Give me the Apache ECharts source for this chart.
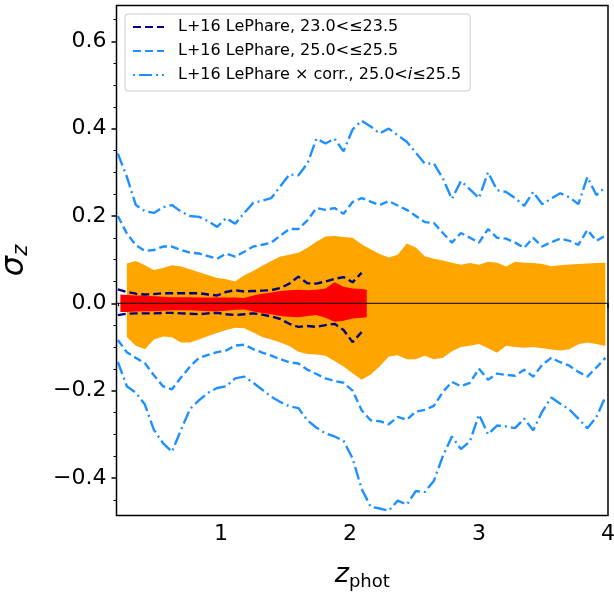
<!DOCTYPE html>
<html><head><meta charset="utf-8">
<script src="https://cdn.jsdelivr.net/npm/echarts@6/dist/echarts.min.js"></script>
<style>html,body{margin:0;padding:0;background:#fff}#c{width:614px;height:597px}</style>
</head><body><div id="c"></div>
<script>
// photometric-redshift grid (bin centres)
const zGrid = [0.20,0.27,0.34,0.41,0.48,0.55,0.62,0.69,0.76,0.83,0.90,0.97,1.04,1.11,1.18,1.25,1.32,1.39,1.46,1.53,1.60,1.67,1.74,1.81,1.88,1.95,2.02,2.09,2.16,2.23,2.30,2.37,2.44,2.51,2.58,2.65,2.72,2.79,2.86,2.93,3.00,3.07,3.14,3.21,3.28,3.35,3.42,3.49,3.56,3.63,3.70,3.77,3.84,3.91,3.98];
const zOrange = [0.27,0.34,0.41,0.48,0.55,0.62,0.69,0.76,0.83,0.90,0.97,1.04,1.11,1.18,1.25,1.32,1.39,1.46,1.53,1.60,1.67,1.74,1.81,1.88,1.95,2.02,2.09,2.16,2.23,2.30,2.37,2.44,2.51,2.58,2.65,2.72,2.79,2.86,2.93,3.00,3.07,3.14,3.21,3.28,3.35,3.42,3.49,3.56,3.63,3.70,3.77,3.84,3.91,3.98];
const zRed = [0.22,0.27,0.34,0.41,0.48,0.55,0.62,0.69,0.76,0.83,0.90,0.97,1.04,1.11,1.18,1.25,1.32,1.39,1.46,1.53,1.60,1.67,1.74,1.81,1.88,1.95,2.02,2.09,2.13];
const zNavy = [0.20,0.27,0.34,0.41,0.48,0.55,0.62,0.69,0.76,0.83,0.90,0.97,1.04,1.11,1.18,1.25,1.32,1.39,1.46,1.53,1.60,1.67,1.74,1.81,1.88,1.95,2.02,2.09];

const corrUpper = [0.343,0.290,0.225,0.211,0.207,0.220,0.225,0.210,0.200,0.198,0.188,0.175,0.195,0.182,0.207,0.230,0.235,0.241,0.268,0.295,0.293,0.320,0.377,0.366,0.377,0.348,0.398,0.418,0.405,0.389,0.400,0.385,0.370,0.345,0.320,0.320,0.286,0.239,0.280,0.261,0.241,0.300,0.259,0.255,0.241,0.223,0.255,0.227,0.240,0.252,0.243,0.227,0.289,0.248,0.266];
const corrLower = [-0.134,-0.190,-0.205,-0.232,-0.290,-0.320,-0.340,-0.290,-0.242,-0.222,-0.205,-0.194,-0.190,-0.172,-0.168,-0.182,-0.198,-0.214,-0.226,-0.236,-0.240,-0.268,-0.285,-0.298,-0.305,-0.315,-0.355,-0.425,-0.466,-0.470,-0.475,-0.452,-0.461,-0.430,-0.432,-0.407,-0.350,-0.305,-0.334,-0.316,-0.255,-0.300,-0.280,-0.282,-0.286,-0.264,-0.291,-0.248,-0.216,-0.230,-0.243,-0.264,-0.286,-0.261,-0.214];
const blueUpper = [0.200,0.160,0.133,0.120,0.122,0.130,0.130,0.122,0.116,0.114,0.108,0.102,0.114,0.107,0.118,0.130,0.134,0.139,0.155,0.170,0.170,0.190,0.218,0.214,0.218,0.205,0.232,0.241,0.233,0.225,0.234,0.224,0.214,0.200,0.186,0.184,0.161,0.139,0.161,0.150,0.139,0.170,0.150,0.148,0.139,0.127,0.150,0.130,0.140,0.148,0.143,0.134,0.168,0.143,0.155];
const blueLower = [-0.084,-0.112,-0.125,-0.137,-0.165,-0.190,-0.197,-0.170,-0.145,-0.125,-0.118,-0.112,-0.108,-0.097,-0.095,-0.105,-0.113,-0.120,-0.128,-0.135,-0.138,-0.152,-0.162,-0.172,-0.178,-0.182,-0.200,-0.245,-0.268,-0.270,-0.277,-0.260,-0.267,-0.248,-0.244,-0.235,-0.203,-0.180,-0.190,-0.182,-0.150,-0.175,-0.161,-0.164,-0.166,-0.152,-0.168,-0.141,-0.125,-0.135,-0.143,-0.157,-0.168,-0.147,-0.125];
const navyUpper = [0.032,0.026,0.022,0.020,0.021,0.023,0.023,0.023,0.023,0.023,0.020,0.018,0.026,0.030,0.027,0.028,0.029,0.030,0.035,0.045,0.061,0.046,0.045,0.050,0.056,0.060,0.048,0.070];
const navyLower = [-0.027,-0.024,-0.023,-0.023,-0.023,-0.022,-0.022,-0.023,-0.024,-0.025,-0.023,-0.022,-0.025,-0.027,-0.025,-0.023,-0.026,-0.030,-0.036,-0.047,-0.054,-0.052,-0.054,-0.050,-0.047,-0.061,-0.089,-0.066];
const orangeUpper = [0.091,0.097,0.087,0.076,0.081,0.087,0.084,0.078,0.071,0.065,0.058,0.055,0.050,0.064,0.074,0.086,0.097,0.107,0.111,0.116,0.127,0.141,0.153,0.154,0.152,0.150,0.135,0.124,0.113,0.105,0.111,0.137,0.128,0.108,0.102,0.098,0.093,0.088,0.092,0.088,0.095,0.093,0.084,0.095,0.093,0.092,0.090,0.085,0.087,0.089,0.090,0.091,0.092,0.093];
const orangeLower = [-0.077,-0.097,-0.105,-0.083,-0.076,-0.078,-0.090,-0.090,-0.083,-0.075,-0.068,-0.061,-0.056,-0.057,-0.067,-0.077,-0.083,-0.090,-0.098,-0.111,-0.116,-0.117,-0.120,-0.132,-0.145,-0.160,-0.175,-0.163,-0.145,-0.122,-0.119,-0.128,-0.128,-0.120,-0.128,-0.125,-0.110,-0.100,-0.097,-0.093,-0.103,-0.113,-0.097,-0.100,-0.102,-0.100,-0.103,-0.106,-0.108,-0.105,-0.094,-0.090,-0.093,-0.098];
const redUpper = [0.020,0.019,0.018,0.017,0.016,0.015,0.014,0.014,0.014,0.013,0.013,0.013,0.013,0.013,0.012,0.018,0.022,0.025,0.028,0.030,0.031,0.030,0.031,0.034,0.048,0.038,0.034,0.033,0.031];
const redLower = [-0.020,-0.020,-0.019,-0.018,-0.018,-0.017,-0.016,-0.016,-0.016,-0.017,-0.018,-0.018,-0.017,-0.015,-0.014,-0.019,-0.022,-0.025,-0.029,-0.031,-0.032,-0.029,-0.027,-0.033,-0.042,-0.040,-0.035,-0.033,-0.032];

const xTicks = [1,2,3,4];
const xMinorTicks = [0.2,0.3,0.4,0.5,0.6,0.7,0.8,0.9,1.1,1.2,1.3,1.4,1.5,1.6,1.7,1.8,1.9,2.1,2.2,2.3,2.4,2.5,2.6,2.7,2.8,2.9,3.1,3.2,3.3,3.4,3.5,3.6,3.7,3.8,3.9];
const yTicks = [-0.4,-0.2,0,0.2,0.4,0.6];
const yMinorTicks = [-0.45,-0.35,-0.3,-0.25,-0.15,-0.1,-0.05,0.05,0.1,0.15,0.25,0.3,0.35,0.45,0.5,0.55,0.65];
const legendLabels = ['L+16 LePhare, 23.0<≤23.5','L+16 LePhare, 25.0<≤25.5','L+16 LePhare × corr., 25.0<{it|i}≤25.5'];

const X_MIN = 0.19, X_MAX = 4.0, Y_MIN = -0.486, Y_MAX = 0.682;
const FONT = 'DejaVu Sans';

function pairs(xs, ys){ return ys.map((y,i)=>[xs[i], y]); }
function band(xs, lo, hi, color){
  return {
    type:'custom', silent:true, z:1, data:[[xs[0], lo[0]]],
    renderItem(params, api){
      const pts = [];
      for (let i=0;i<xs.length;i++) pts.push(api.coord([xs[i], hi[i]]));
      for (let i=xs.length-1;i>=0;i--) pts.push(api.coord([xs[i], lo[i]]));
      return {type:'polygon', shape:{points:pts}, style:{fill:color}};
    }
  };
}
function line(name, xs, ys, color, type){
  return {type:'line', name, data:pairs(xs, ys), symbol:'none', showSymbol:false, silent:true, z:3,
    lineStyle:{color, width:2.4, type}, itemStyle:{color}};
}

const nameMap = {nav:legendLabels[0], blu:legendLabels[1], cor:legendLabels[2]};
const chart = echarts.init(document.getElementById('c'), null, {renderer:'canvas'});
chart.setOption({
  animation:false,
  textStyle:{fontFamily:FONT},
  grid:{left:116.5, right:6, top:5.5, bottom:81.5, containLabel:false, outerBoundsMode:'none',
    show:true, borderColor:'#000', borderWidth:1.5, backgroundColor:'transparent'},
  legend:{
    data:['nav','blu',{name:'cor', lineStyle:{dashOffset:17}}], orient:'vertical', left:125, top:14,
    padding:[5,9,8,7], itemWidth:31, itemHeight:14, itemGap:8,
    backgroundColor:'rgba(255,255,255,0.8)', borderColor:'#cccccc', borderWidth:1, borderRadius:3,
    itemStyle:{color:'rgba(0,0,0,0)', borderColor:'rgba(0,0,0,0)', borderWidth:0},
    formatter:(n)=>nameMap[n],
    textStyle:{fontSize:16, fontFamily:FONT, color:'#000', lineHeight:16, padding:[0,0,0,9],
      rich:{it:{fontStyle:'italic', fontSize:16, fontFamily:FONT, color:'#000'}}},
    selectedMode:false
  },
  xAxis:[{
    type:'value', min:X_MIN, max:X_MAX, position:'bottom',
    axisLine:{show:false}, splitLine:{show:false},
    axisTick:{show:true, inside:false, length:5, lineStyle:{color:'#000', width:1.5}, customValues:xTicks},
    axisLabel:{customValues:xTicks, fontSize:22, color:'#000', fontFamily:FONT, margin:8, formatter:(v)=>String(Math.round(v))},
    name:'{z|z}{p|phot}', nameLocation:'middle', nameGap:42,
    nameTextStyle:{rich:{
      z:{fontSize:27, fontStyle:'italic', fontFamily:FONT, color:'#000', lineHeight:34},
      p:{fontSize:18, fontFamily:FONT, color:'#000', lineHeight:20, verticalAlign:'bottom'}
    }}
  },{
    type:'value', min:X_MIN, max:X_MAX, position:'bottom',
    axisLine:{show:false}, splitLine:{show:false},
    axisTick:{show:true, inside:false, length:3, lineStyle:{color:'#000', width:1}, customValues:xMinorTicks},
    axisLabel:{show:false, customValues:xMinorTicks}
  }],
  yAxis:[{
    type:'value', min:Y_MIN, max:Y_MAX, position:'left',
    axisLine:{show:false}, splitLine:{show:false},
    axisTick:{show:true, inside:false, length:5, lineStyle:{color:'#000', width:1.5}, customValues:yTicks},
    axisLabel:{customValues:yTicks, fontSize:22, color:'#000', fontFamily:FONT, margin:10,
      formatter:(v)=>(v<-1e-9?'\u2212':'')+Math.abs(v).toFixed(1)},
    name:'{s|σ}{z|z}', nameLocation:'middle', nameGap:84, nameRotate:90,
    nameTextStyle:{rich:{
      s:{fontSize:32, fontStyle:'italic', fontFamily:FONT, color:'#000', lineHeight:36},
      z:{fontSize:21, fontStyle:'italic', fontFamily:FONT, color:'#000', lineHeight:24, verticalAlign:'bottom'}
    }}
  },{
    type:'value', min:Y_MIN, max:Y_MAX, position:'left',
    axisLine:{show:false}, splitLine:{show:false},
    axisTick:{show:true, inside:false, length:3, lineStyle:{color:'#000', width:1}, customValues:yMinorTicks},
    axisLabel:{show:false, customValues:yMinorTicks}
  }],
  series:[
    band(zOrange, orangeLower, orangeUpper, '#ffa500'),
    band(zRed, redLower, redUpper, '#ff0000'),
    {type:'line', data:[[X_MIN,0],[X_MAX,0]], symbol:'none', silent:true, z:2, lineStyle:{color:'#000', width:1}},
    line('nav', zNavy, navyUpper, '#000080', [8,4]),
    line('nav', zNavy, navyLower, '#000080', [8,4]),
    line('blu', zGrid, blueUpper, '#1e90ff', [8,4]),
    line('blu', zGrid, blueLower, '#1e90ff', [8,4]),
    line('cor', zGrid, corrUpper, '#1e90ff', [13,4,2,4]),
    line('cor', zGrid, corrLower, '#1e90ff', [13,4,2,4])
  ]
});
</script></body></html>
